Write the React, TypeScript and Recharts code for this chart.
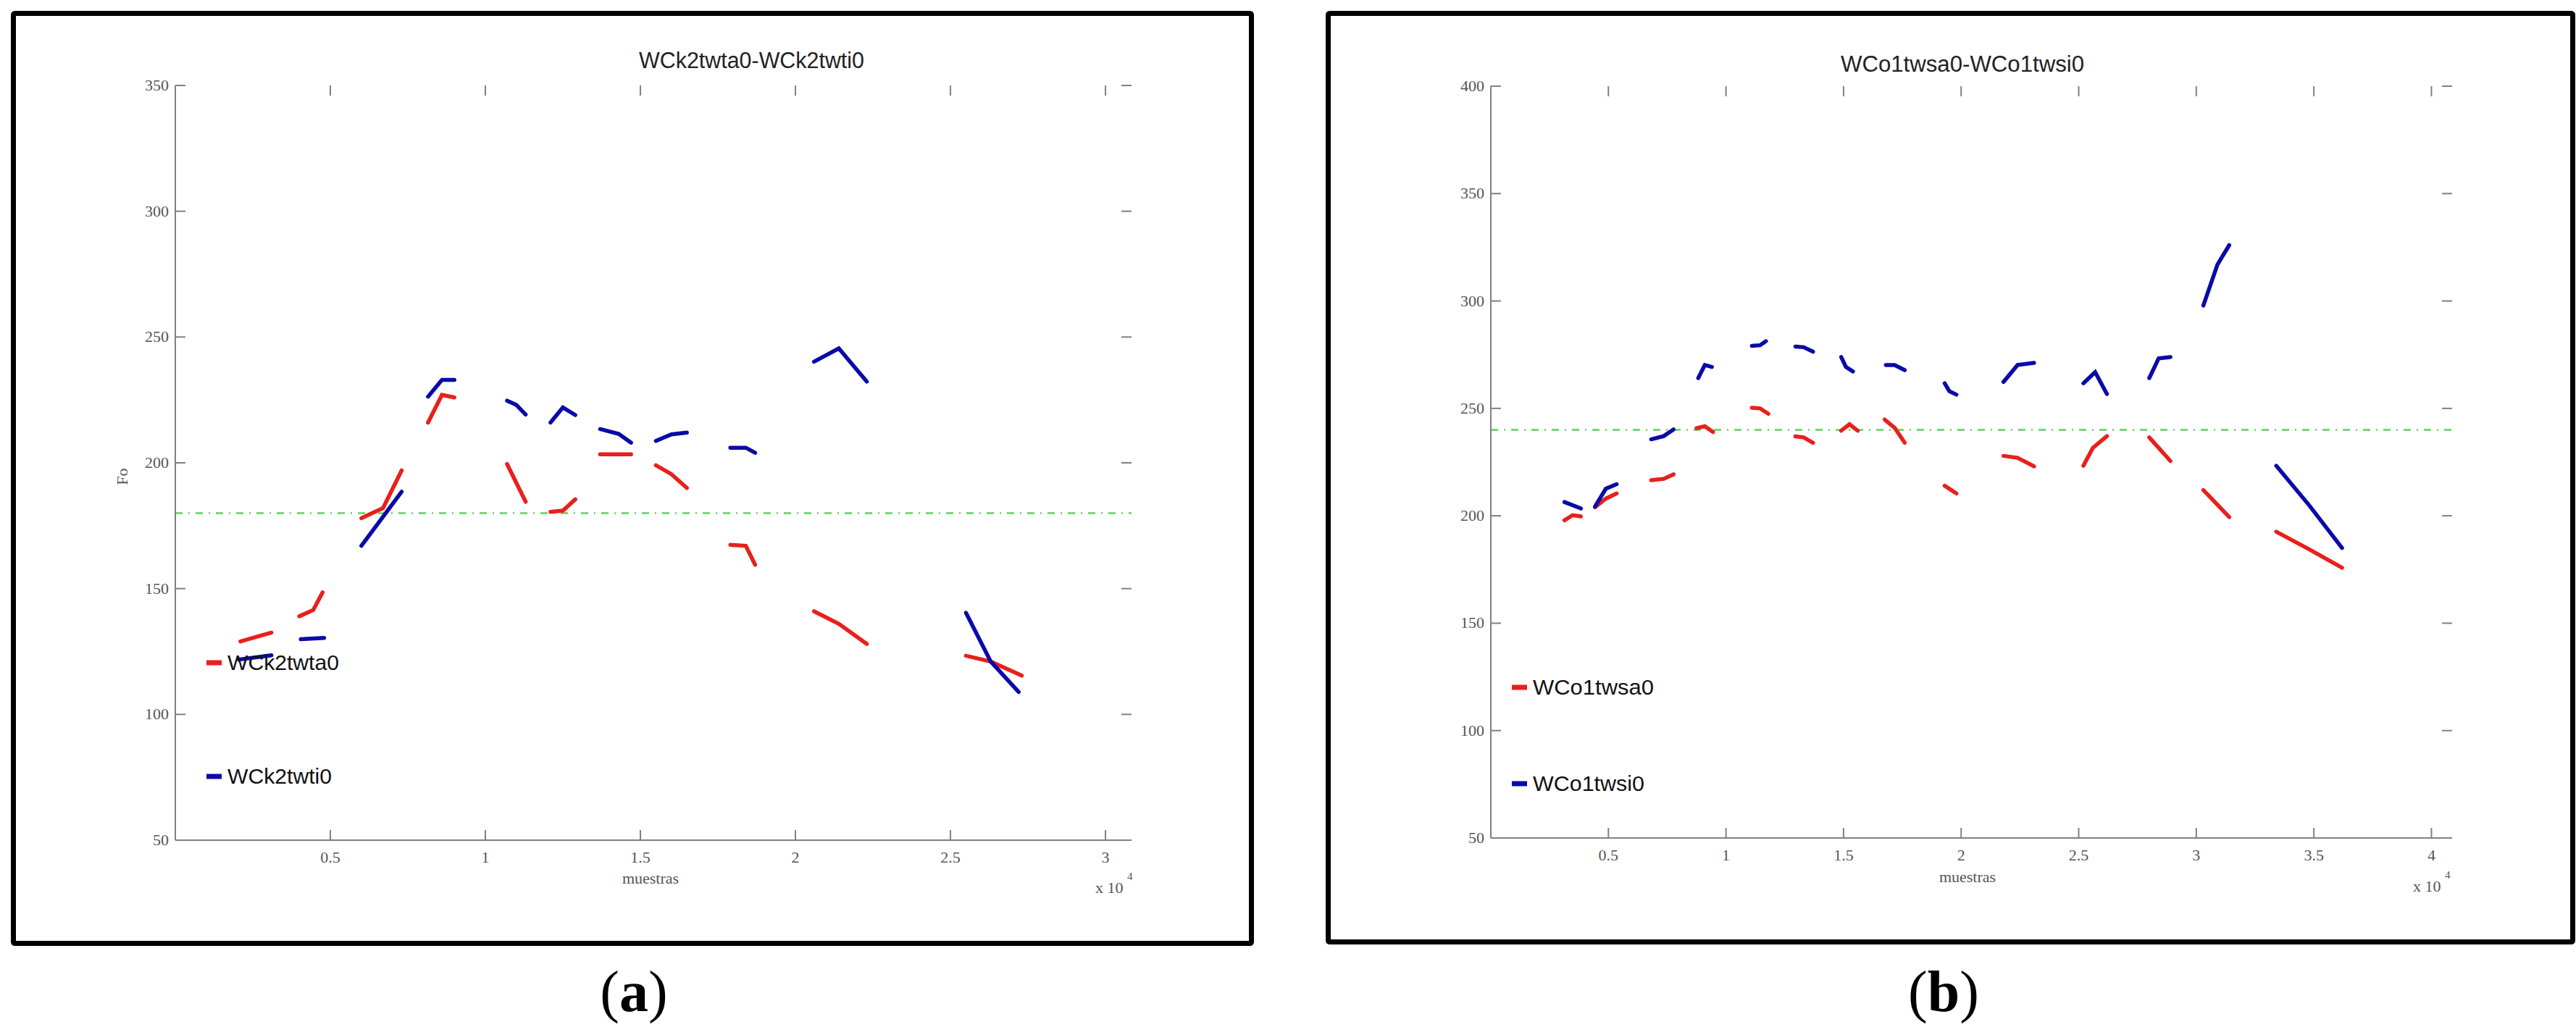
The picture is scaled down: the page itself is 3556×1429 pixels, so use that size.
import React from 'react';
import { LineChart, Line, XAxis, YAxis, ReferenceLine } from 'recharts';

type Seg = [number, number][];

// panel (a): WCk2twta0 (red) vs WCk2twti0 (blue)
const redA: Seg[] = [
  [[2100, 129], [3100, 132.5]],
  [[4000, 139], [4450, 141.5], [4750, 148.5]],
  [[6000, 178], [6700, 182], [7300, 197]],
  [[8150, 216], [8600, 227], [9000, 226]],
  [[10700, 199.5], [11300, 184.5]],
  [[12100, 180.5], [12500, 181], [12900, 185.5]],
  [[13700, 203.4], [14700, 203.4]],
  [[15500, 199], [16000, 195.5], [16500, 190]],
  [[17900, 167.4], [18400, 167], [18700, 159.5]],
  [[20600, 141], [21400, 136], [22300, 128]],
  [[25500, 123.3], [26300, 121], [27300, 115.4]],
];
const blueA: Seg[] = [
  [[2050, 121.8], [3100, 123.5]],
  [[4050, 129.9], [4800, 130.4]],
  [[6000, 167], [7300, 188.5]],
  [[8150, 226.3], [8600, 233], [9000, 233]],
  [[10700, 224.7], [11000, 223], [11300, 219.2]],
  [[12100, 216], [12500, 222], [12900, 219]],
  [[13700, 213.4], [14300, 211.5], [14700, 208]],
  [[15500, 208.7], [16000, 211.3], [16500, 212]],
  [[17900, 206], [18400, 206], [18700, 204]],
  [[20600, 240.2], [21400, 245.5], [22300, 232.3]],
  [[25500, 140.4], [26300, 121], [27200, 108.9]],
];
const xTicksA = [5000, 10000, 15000, 20000, 25000, 30000];
const yTicksA = [50, 100, 150, 200, 250, 300, 350];

// panel (b): WCo1twsa0 (red) vs WCo1twsi0 (blue)
const redB: Seg[] = [
  [[3130, 197.9], [3480, 200.3], [3830, 199.7]],
  [[4430, 204], [4890, 208], [5350, 210.4]],
  [[6820, 216.6], [7350, 217.2], [7770, 219.3]],
  [[8750, 240.8], [9100, 241.7], [9450, 239]],
  [[11100, 250.3], [11450, 250], [11800, 247.5]],
  [[12950, 237], [13300, 236.5], [13700, 234]],
  [[14900, 239.6], [15250, 242.6], [15600, 239.6]],
  [[16750, 244.8], [17170, 241], [17600, 234]],
  [[19300, 214], [19800, 210.4]],
  [[21800, 227.9], [22400, 227], [23100, 223]],
  [[25200, 223.3], [25600, 231.6], [26200, 237.1]],
  [[28000, 236.5], [28400, 231.6], [28900, 225.5]],
  [[30300, 212], [31400, 199.4]],
  [[33400, 192.6], [34800, 184.4], [36200, 175.8]],
];
const blueB: Seg[] = [
  [[3130, 206.4], [3830, 203.4]],
  [[4430, 204.3], [4890, 212.6], [5350, 214.7]],
  [[6820, 235.6], [7350, 237.1], [7770, 240.2]],
  [[8820, 264.1], [9100, 270.2], [9400, 269.3]],
  [[11100, 279.1], [11450, 279.4], [11700, 281.3]],
  [[12950, 278.8], [13300, 278.5], [13700, 276.4]],
  [[14900, 273.9], [15100, 269.3], [15400, 267.2]],
  [[16800, 270.2], [17170, 270.2], [17600, 267.8]],
  [[19300, 261.7], [19500, 258], [19800, 256.4]],
  [[21800, 262.3], [22400, 270.2], [23100, 271.2]],
  [[25200, 261.7], [25700, 266.9], [26200, 256.7]],
  [[28000, 264.1], [28400, 273.3], [28900, 273.9]],
  [[30300, 297.9], [30900, 316.9], [31400, 326]],
  [[33400, 223.3], [34800, 204.9], [36200, 185]],
];
const xTicksB = [5000, 10000, 15000, 20000, 25000, 30000, 35000, 40000];
const yTicksB = [50, 100, 150, 200, 250, 300, 350, 400];

const RED = '#e8201c';
const BLUE = '#0a0aa8';
const GREEN = '#62cf62';
const AXIS = '#808080';
const TICK_FONT = "'Liberation Serif', serif";
const SANS = "'Liberation Sans', Arial, sans-serif";

// one row per point, with a null row after each segment so the line breaks
const toRows = (segs: Seg[]) => {
  const rows: { x: number; y: number | null }[] = [];
  segs.forEach((seg) => {
    seg.forEach(([x, y]) => rows.push({ x, y }));
    rows.push({ x: seg[seg.length - 1][0] + 1, y: null });
  });
  return rows;
};

interface PanelProps {
  left: number;
  width: number;
  height: number;
  margin: { top: number; right: number; bottom: number; left: number };
  yAxisWidth: number;
  xMax: number;
  yMax: number;
  xTicks: number[];
  yTicks: number[];
  refY: number;
  red: Seg[];
  blue: Seg[];
}

const Panel: React.FC<PanelProps> = (p) => {
  const plotTop = p.margin.top;
  const plotBottom = p.height - p.margin.bottom - 60;
  const plotLeft = p.margin.left + p.yAxisWidth;
  const plotRight = p.width - p.margin.right;

  const xTick = (t: any) => (
    <g>
      <line x1={t.x} x2={t.x} y1={plotBottom} y2={plotBottom - 14} stroke={AXIS} strokeWidth={2} />
      <line x1={t.x} x2={t.x} y1={plotTop} y2={plotTop + 14} stroke={AXIS} strokeWidth={2} />
      <text x={t.x} y={plotBottom + 31} textAnchor="middle" fontSize={22} fontFamily={TICK_FONT} fill="#555">
        {String(t.payload.value / 10000)}
      </text>
    </g>
  );

  const yTick = (t: any) => (
    <g>
      <line x1={plotLeft} x2={plotLeft + 14} y1={t.y} y2={t.y} stroke={AXIS} strokeWidth={2} />
      <line x1={plotRight} x2={plotRight - 14} y1={t.y} y2={t.y} stroke={AXIS} strokeWidth={2} />
      <text x={plotLeft - 9} y={t.y + 7} textAnchor="end" fontSize={22} fontFamily={TICK_FONT} fill="#555">
        {String(t.payload.value)}
      </text>
    </g>
  );

  return (
    <div style={{ position: 'absolute', left: p.left, top: 0 }}>
      <LineChart width={p.width} height={p.height} margin={p.margin}>
        <XAxis
          dataKey="x"
          type="number"
          domain={[0, p.xMax]}
          ticks={p.xTicks}
          interval={0}
          allowDataOverflow
          height={60}
          tickLine={false}
          axisLine={{ stroke: AXIS, strokeWidth: 2 }}
          tick={xTick}
        />
        <XAxis
          xAxisId="top"
          orientation="top"
          type="number"
          domain={[0, p.xMax]}
          height={0}
          tick={false}
          tickLine={false}
          axisLine={{ stroke: AXIS, strokeWidth: 2 }}
        />
        <YAxis
          type="number"
          domain={[50, p.yMax]}
          ticks={p.yTicks}
          interval={0}
          allowDataOverflow
          width={p.yAxisWidth}
          tickLine={false}
          axisLine={{ stroke: AXIS, strokeWidth: 2 }}
          tick={yTick}
        />
        <YAxis
          yAxisId="right"
          orientation="right"
          type="number"
          domain={[50, p.yMax]}
          width={0}
          tick={false}
          tickLine={false}
          axisLine={{ stroke: AXIS, strokeWidth: 2 }}
        />
        <ReferenceLine y={p.refY} stroke={GREEN} strokeWidth={2.5} strokeDasharray="10 8 2 8" />
        <Line
          data={toRows(p.red)}
          dataKey="y"
          type="linear"
          stroke={RED}
          strokeWidth={5.5}
          strokeLinecap="round"
          dot={false}
          connectNulls={false}
          isAnimationActive={false}
        />
        <Line
          data={toRows(p.blue)}
          dataKey="y"
          type="linear"
          stroke={BLUE}
          strokeWidth={5.5}
          strokeLinecap="round"
          dot={false}
          connectNulls={false}
          isAnimationActive={false}
        />
      </LineChart>
    </div>
  );
};

const LegendItem: React.FC<{ x: number; y: number; color: string; label: string; len: number }> = ({
  x,
  y,
  color,
  label,
  len,
}) => (
  <g>
    <line x1={x} x2={x + 21} y1={y} y2={y} stroke={color} strokeWidth={7} />
    <text
      x={x + 29}
      y={y + 10}
      fontSize={29}
      fontFamily={SANS}
      fill="#111"
      textLength={len}
      lengthAdjust="spacingAndGlyphs"
    >
      {label}
    </text>
  </g>
);

const App: React.FC = () => {
  return (
    <div style={{ position: 'absolute', left: 0, top: 0, width: 3556, height: 1429, background: '#fff' }}>
      <Panel
        left={0}
        width={1700}
        height={1300}
        margin={{ top: 118, right: 138, bottom: 80, left: 0 }}
        yAxisWidth={242}
        xMax={30840}
        yMax={350}
        xTicks={xTicksA}
        yTicks={yTicksA}
        refY={180}
        red={redA}
        blue={blueA}
      />
      <Panel
        left={1850}
        width={1650}
        height={1300}
        margin={{ top: 119, right: 115, bottom: 83, left: 0 }}
        yAxisWidth={208}
        xMax={40880}
        yMax={400}
        xTicks={xTicksB}
        yTicks={yTicksB}
        refY={240}
        red={redB}
        blue={blueB}
      />
      <svg
        width={3556}
        height={1429}
        style={{ position: 'absolute', left: 0, top: 0, pointerEvents: 'none' }}
      >
        <rect x={18.5} y={18.5} width={1709} height={1284} fill="none" stroke="#000" strokeWidth={7} rx={2} />
        <rect x={1833.5} y={18.5} width={1718} height={1282} fill="none" stroke="#000" strokeWidth={7} rx={2} />

        <text x={882} y={94} fontSize={31} fontFamily={SANS} fill="#222" textLength={311} lengthAdjust="spacingAndGlyphs">
          WCk2twta0-WCk2twti0
        </text>
        <text x={2541} y={99} fontSize={31} fontFamily={SANS} fill="#222" textLength={336} lengthAdjust="spacingAndGlyphs">
          WCo1twsa0-WCo1twsi0
        </text>

        <text x={898} y={1220} textAnchor="middle" fontSize={22} fontFamily={TICK_FONT} fill="#555">
          muestras
        </text>
        <text x={2716} y={1218} textAnchor="middle" fontSize={22} fontFamily={TICK_FONT} fill="#555">
          muestras
        </text>

        <text x={1512} y={1233} fontSize={22} fontFamily={TICK_FONT} fill="#555">
          x 10
        </text>
        <text x={1556} y={1215} fontSize={15} fontFamily={TICK_FONT} fill="#555">
          4
        </text>
        <text x={3331} y={1231} fontSize={22} fontFamily={TICK_FONT} fill="#555">
          x 10
        </text>
        <text x={3375} y={1213} fontSize={15} fontFamily={TICK_FONT} fill="#555">
          4
        </text>

        <text
          x={176}
          y={658}
          textAnchor="middle"
          fontSize={22}
          fontFamily={TICK_FONT}
          fill="#555"
          transform="rotate(-90 176 658)"
        >
          Fo
        </text>

        <LegendItem x={285} y={915} color={RED} label="WCk2twta0" len={154} />
        <LegendItem x={285} y={1072} color={BLUE} label="WCk2twti0" len={144} />
        <LegendItem x={2087} y={949} color={RED} label="WCo1twsa0" len={167} />
        <LegendItem x={2087} y={1082} color={BLUE} label="WCo1twsi0" len={154} />

        <text x={875} y={1396} textAnchor="middle" fontSize={80} fontFamily={TICK_FONT} fill="#000">
          (<tspan fontWeight="bold">a</tspan>)
        </text>
        <text x={2683} y={1396} textAnchor="middle" fontSize={80} fontFamily={TICK_FONT} fill="#000">
          (<tspan fontWeight="bold">b</tspan>)
        </text>
      </svg>
    </div>
  );
};

export default App;
